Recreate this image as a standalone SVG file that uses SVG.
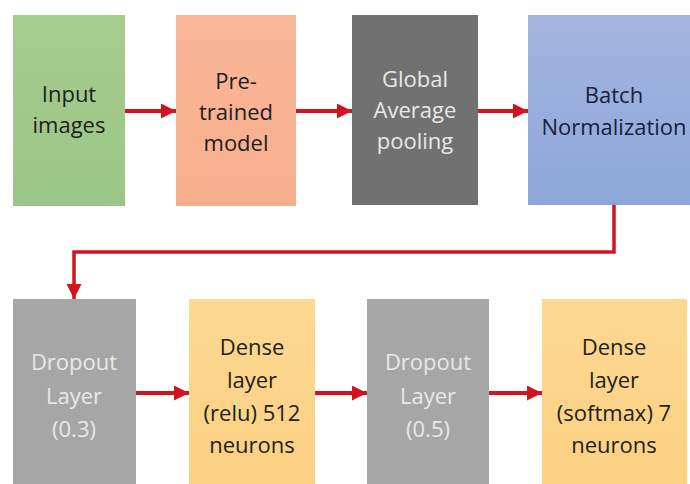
<svg xmlns="http://www.w3.org/2000/svg" width="690" height="484" viewBox="0 0 690 484">
  <style>
    text { font-family: "Open Sans", "Liberation Sans", sans-serif; font-size: 22px; text-anchor: middle; }
    .dark { fill: #1e1e1e; }
    .navy { fill: #1b2038; }
    .pale { fill: #e8e8e8; }
    .link { fill: none; stroke: #d3141c; stroke-width: 4; marker-end: url(#head); }
    .elbow { stroke-width: 3.5; }
  </style>
  <defs>
    <linearGradient id="gGreen" x1="0" y1="0" x2="0" y2="1">
      <stop offset="0" stop-color="#a6cc8e"/>
      <stop offset="1" stop-color="#9bc586"/>
    </linearGradient>
    <linearGradient id="gSalmon" x1="0" y1="0" x2="0" y2="1">
      <stop offset="0" stop-color="#f9b699"/>
      <stop offset="1" stop-color="#f7ae8c"/>
    </linearGradient>
    <linearGradient id="gBlue" x1="0" y1="0" x2="0" y2="1">
      <stop offset="0" stop-color="#a4b5e0"/>
      <stop offset="1" stop-color="#8da6da"/>
    </linearGradient>
    <linearGradient id="gYellow" x1="0" y1="0" x2="0" y2="1">
      <stop offset="0" stop-color="#fdd891"/>
      <stop offset="1" stop-color="#fbd182"/>
    </linearGradient>
    <marker id="head" viewBox="0 0 15 15" refX="15" refY="7.5" markerWidth="15" markerHeight="15" markerUnits="userSpaceOnUse" orient="auto">
      <path d="M0,0 L15,7.5 L0,15 Z" fill="#d3141c"/>
    </marker>
  </defs>

  <rect width="690" height="484" fill="#ffffff"/>

  <!-- connectors -->
  <g id="connectors">
    <path class="link" d="M125,111 H176"/>
    <path class="link" d="M296,111 H352"/>
    <path class="link" d="M478,111 H528"/>
    <path class="link elbow" d="M614,205 V252 H74 V299"/>
    <path class="link" d="M136,393 H189"/>
    <path class="link" d="M315,393 H367"/>
    <path class="link" d="M489,393 H542"/>
  </g>

  <!-- top row -->
  <g id="input-images">
    <rect x="13" y="15" width="112" height="191" fill="url(#gGreen)"/>
    <text class="dark" x="69" y="102">Input</text>
    <text class="dark" x="69" y="133">images</text>
  </g>
  <g id="pretrained-model">
    <rect x="176" y="15" width="120" height="191" fill="url(#gSalmon)"/>
    <text class="dark" x="236" y="89">Pre-</text>
    <text class="dark" x="236" y="120">trained</text>
    <text class="dark" x="236" y="151">model</text>
  </g>
  <g id="global-average-pooling">
    <rect x="352" y="15" width="126" height="190" fill="#717171"/>
    <text class="pale" x="415" y="87">Global</text>
    <text class="pale" x="415" y="118">Average</text>
    <text class="pale" x="415" y="149">pooling</text>
  </g>
  <g id="batch-normalization">
    <rect x="528" y="15" width="172" height="190" fill="url(#gBlue)"/>
    <text class="navy" x="614" y="103">Batch</text>
    <text class="navy" x="614" y="135">Normalization</text>
  </g>

  <!-- bottom row -->
  <g id="dropout-03">
    <rect x="13" y="299" width="123" height="190" fill="#a6a6a6"/>
    <text class="pale" x="74" y="370">Dropout</text>
    <text class="pale" x="74" y="404">Layer</text>
    <text class="pale" x="74" y="437">(0.3)</text>
  </g>
  <g id="dense-relu">
    <rect x="189" y="299" width="126" height="190" fill="url(#gYellow)"/>
    <text class="dark" x="252" y="355">Dense</text>
    <text class="dark" x="252" y="388">layer</text>
    <text class="dark" x="252" y="421">(relu) 512</text>
    <text class="dark" x="252" y="453">neurons</text>
  </g>
  <g id="dropout-05">
    <rect x="367" y="299" width="122" height="190" fill="#a6a6a6"/>
    <text class="pale" x="428" y="370">Dropout</text>
    <text class="pale" x="428" y="404">Layer</text>
    <text class="pale" x="428" y="437">(0.5)</text>
  </g>
  <g id="dense-softmax">
    <rect x="542" y="299" width="145" height="190" fill="url(#gYellow)"/>
    <text class="dark" x="614" y="355">Dense</text>
    <text class="dark" x="614" y="388">layer</text>
    <text class="dark" x="614" y="421">(softmax) 7</text>
    <text class="dark" x="614" y="453">neurons</text>
  </g>
</svg>
